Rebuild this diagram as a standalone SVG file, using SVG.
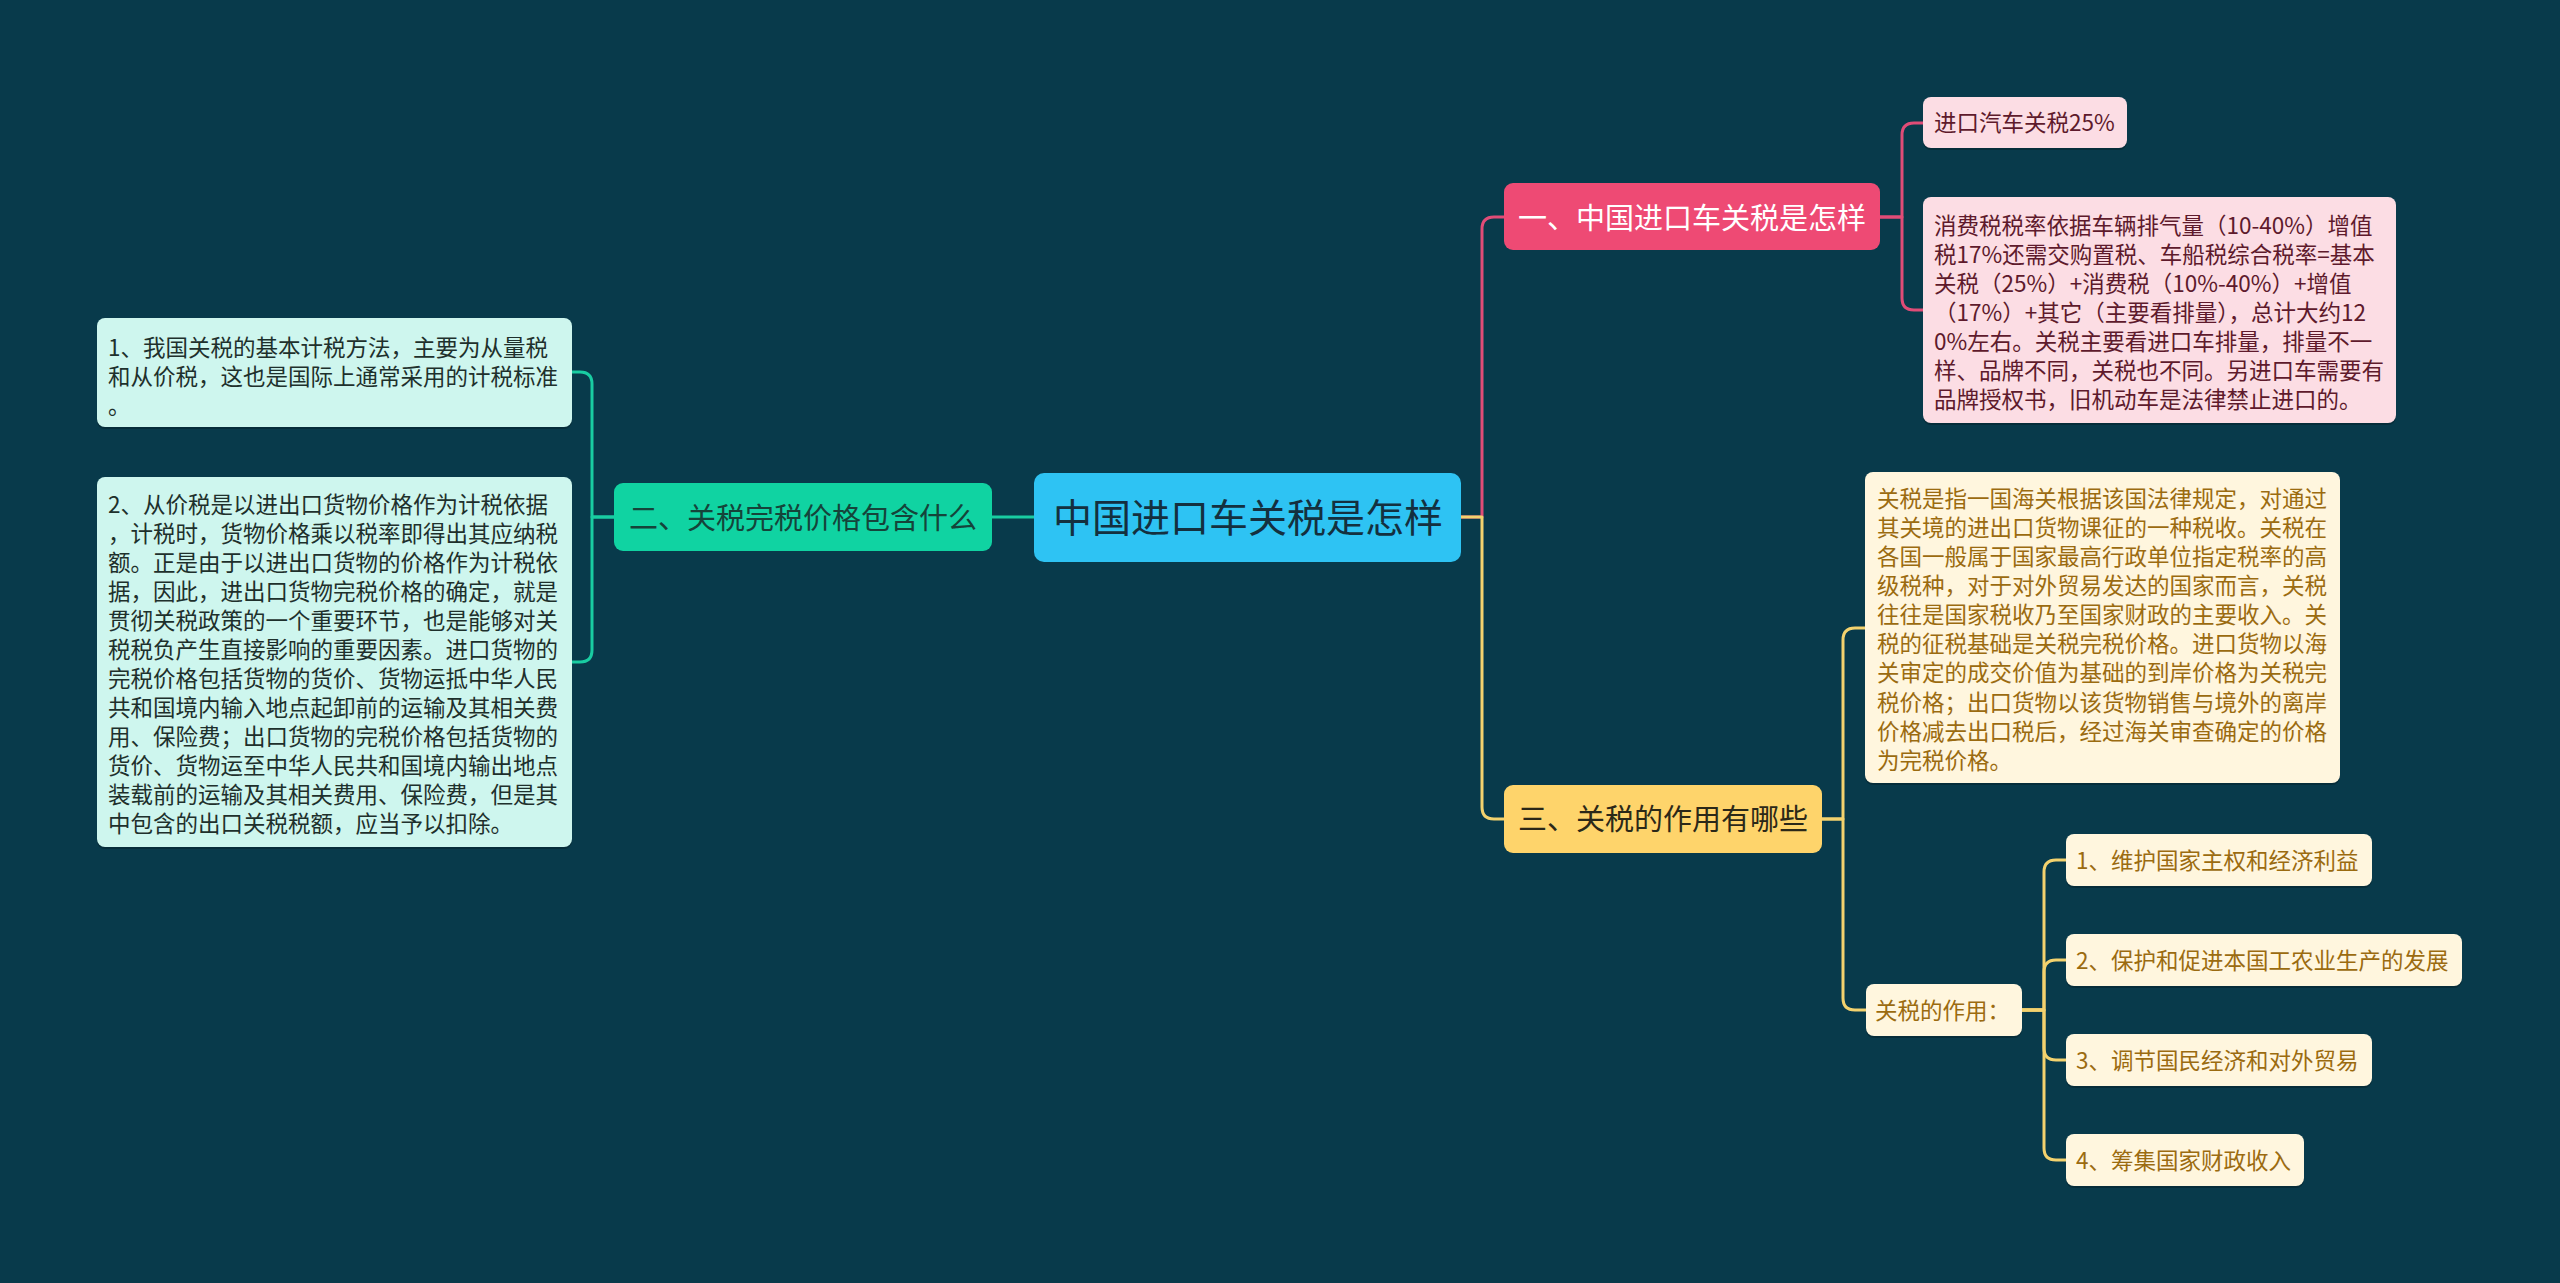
<svg xmlns="http://www.w3.org/2000/svg" width="2560" height="1283" viewBox="0 0 2560 1283">
<style>
text{font-family:"Noto Sans CJK SC","Noto Sans",sans-serif;}
.c{fill:none;stroke-width:3;stroke-linecap:round;stroke-linejoin:round;}
.cg{stroke:#19CCA2;}
.cp{stroke:#E04C77;}
.cy{stroke:#F3D26E;}
.sh{fill:#000;opacity:0.22;}
.t22{font-size:22.5px;}
.t29{font-size:29px;}
.t42{font-size:42px;}
.lm{fill:#CEF6EE;}
.lmt{fill:#1E302C;}
.pk{fill:#FCDDE4;}
.pkt{fill:#5E1A2C;}
.cr{fill:#FFF6DE;}
.crt{fill:#9B6B10;}
</style>
<rect x="0" y="0" width="2560" height="1283" fill="#083A4B"/>
<g id="connectors">
<path class="c cg" d="M1034,517 H992"/>
<path class="c cg" d="M614,517 H592 V384 Q592,372 580,372 H572"/>
<path class="c cg" d="M614,517 H592 V650 Q592,662 580,662 H572"/>
<path class="c cp" d="M1461,517 H1482 V229 Q1482,217 1494,217 H1504"/>
<path class="c cy" d="M1461,517 H1482 V807 Q1482,819 1494,819 H1504"/>
<path class="c cp" d="M1880,217 H1902 V135 Q1902,123 1914,123 H1923"/>
<path class="c cp" d="M1880,217 H1902 V298 Q1902,310 1914,310 H1923"/>
<path class="c cy" d="M1822,819 H1843 V640 Q1843,628 1855,628 H1865"/>
<path class="c cy" d="M1822,819 H1843 V998 Q1843,1010 1855,1010 H1866"/>
<path class="c cy" d="M2022,1010 H2044 V872 Q2044,860 2056,860 H2066"/>
<path class="c cy" d="M2022,1010 H2044 V972 Q2044,960 2056,960 H2066"/>
<path class="c cy" d="M2022,1010 H2044 V1048 Q2044,1060 2056,1060 H2066"/>
<path class="c cy" d="M2022,1010 H2044 V1148 Q2044,1160 2056,1160 H2066"/>
</g>
<g id="root">
<rect x="1034" y="473" width="427" height="89" rx="10" fill="#2EC3F3"/>
<text x="1248" y="532" style="font-size:39px" text-anchor="middle" fill="#14303F">中国进口车关税是怎样</text>
</g>
<g id="n2">
<rect x="614" y="483" width="378" height="68" rx="9" fill="#10D3A2"/>
<text class="t29" x="803" y="529" text-anchor="middle" fill="#15443A">二、关税完税价格包含什么</text>
</g>
<g id="n2a">
<rect class="sh" x="97" y="320" width="475" height="109" rx="8"/>
<rect class="lm" x="97" y="318" width="475" height="109" rx="8"/>
<text class="t22 lmt" x="108"><tspan x="108" y="355.5">1、我国关税的基本计税方法，主要为从量税</tspan><tspan x="108" y="384.5">和从价税，这也是国际上通常采用的计税标准</tspan><tspan x="108" y="413.5">。</tspan></text>
</g>
<g id="n2b">
<rect class="sh" x="97" y="479" width="475" height="370" rx="8"/>
<rect class="lm" x="97" y="477" width="475" height="370" rx="8"/>
<text class="t22 lmt"><tspan x="108" y="512.5">2、从价税是以进出口货物价格作为计税依据</tspan><tspan x="108" y="541.5">，计税时，货物价格乘以税率即得出其应纳税</tspan><tspan x="108" y="570.5">额。正是由于以进出口货物的价格作为计税依</tspan><tspan x="108" y="599.5">据，因此，进出口货物完税价格的确定，就是</tspan><tspan x="108" y="628.5">贯彻关税政策的一个重要环节，也是能够对关</tspan><tspan x="108" y="657.5">税税负产生直接影响的重要因素。进口货物的</tspan><tspan x="108" y="686.5">完税价格包括货物的货价、货物运抵中华人民</tspan><tspan x="108" y="715.5">共和国境内输入地点起卸前的运输及其相关费</tspan><tspan x="108" y="744.5">用、保险费；出口货物的完税价格包括货物的</tspan><tspan x="108" y="773.5">货价、货物运至中华人民共和国境内输出地点</tspan><tspan x="108" y="802.5">装载前的运输及其相关费用、保险费，但是其</tspan><tspan x="108" y="831.5">中包含的出口关税税额，应当予以扣除。</tspan></text>
</g>
<g id="n1">
<rect x="1504" y="183" width="376" height="67" rx="9" fill="#EE4A74"/>
<text class="t29" x="1692" y="228.5" text-anchor="middle" fill="#FFFFFF">一、中国进口车关税是怎样</text>
</g>
<g id="n1a">
<rect class="sh" x="1923" y="99" width="204" height="51" rx="8"/>
<rect class="pk" x="1923" y="97" width="204" height="51" rx="8"/>
<text class="t22 pkt" x="1934" y="131">进口汽车关税25%</text>
</g>
<g id="n1b">
<rect class="sh" x="1923" y="199" width="473" height="226" rx="8"/>
<rect class="pk" x="1923" y="197" width="473" height="226" rx="8"/>
<text class="t22 pkt"><tspan x="1934" y="233.5">消费税税率依据车辆排气量（10-40%）增值</tspan><tspan x="1934" y="262.5">税17%还需交购置税、车船税综合税率=基本</tspan><tspan x="1934" y="291.5">关税（25%）+消费税（10%-40%）+增值</tspan><tspan x="1934" y="320.5">（17%）+其它（主要看排量），总计大约12</tspan><tspan x="1934" y="349.5">0%左右。关税主要看进口车排量，排量不一</tspan><tspan x="1934" y="378.5">样、品牌不同，关税也不同。另进口车需要有</tspan><tspan x="1934" y="407.5">品牌授权书，旧机动车是法律禁止进口的。</tspan></text>
</g>
<g id="n3">
<rect x="1504" y="785" width="318" height="68" rx="9" fill="#FED46B"/>
<text class="t29" x="1663" y="830" text-anchor="middle" fill="#2B2818">三、关税的作用有哪些</text>
</g>
<g id="n3a">
<rect class="sh" x="1865" y="474" width="475" height="311" rx="8"/>
<rect class="cr" x="1865" y="472" width="475" height="311" rx="8"/>
<text class="t22 crt"><tspan x="1877" y="506.5">关税是指一国海关根据该国法律规定，对通过</tspan><tspan x="1877" y="535.6">其关境的进出口货物课征的一种税收。关税在</tspan><tspan x="1877" y="564.8">各国一般属于国家最高行政单位指定税率的高</tspan><tspan x="1877" y="594">级税种，对于对外贸易发达的国家而言，关税</tspan><tspan x="1877" y="623.1">往往是国家税收乃至国家财政的主要收入。关</tspan><tspan x="1877" y="652.3">税的征税基础是关税完税价格。进口货物以海</tspan><tspan x="1877" y="681.4">关审定的成交价值为基础的到岸价格为关税完</tspan><tspan x="1877" y="710.6">税价格；出口货物以该货物销售与境外的离岸</tspan><tspan x="1877" y="739.7">价格减去出口税后，经过海关审查确定的价格</tspan><tspan x="1877" y="768.9">为完税价格。</tspan></text>
</g>
<g id="n3b">
<rect class="sh" x="1866" y="986" width="156" height="52" rx="8"/>
<rect class="cr" x="1866" y="984" width="156" height="52" rx="8"/>
<text class="t22 crt" x="1875" y="1019">关税的作用：</text>
</g>
<g id="n3b1">
<rect class="sh" x="2066" y="836" width="306" height="52" rx="8"/>
<rect class="cr" x="2066" y="834" width="306" height="52" rx="8"/>
<text class="t22 crt" x="2076" y="868.5">1、维护国家主权和经济利益</text>
</g>
<g id="n3b2">
<rect class="sh" x="2066" y="936" width="396" height="52" rx="8"/>
<rect class="cr" x="2066" y="934" width="396" height="52" rx="8"/>
<text class="t22 crt" x="2076" y="968.5">2、保护和促进本国工农业生产的发展</text>
</g>
<g id="n3b3">
<rect class="sh" x="2066" y="1036" width="306" height="52" rx="8"/>
<rect class="cr" x="2066" y="1034" width="306" height="52" rx="8"/>
<text class="t22 crt" x="2076" y="1068.5">3、调节国民经济和对外贸易</text>
</g>
<g id="n3b4">
<rect class="sh" x="2066" y="1136" width="238" height="52" rx="8"/>
<rect class="cr" x="2066" y="1134" width="238" height="52" rx="8"/>
<text class="t22 crt" x="2076" y="1168.5">4、筹集国家财政收入</text>
</g>
</svg>
